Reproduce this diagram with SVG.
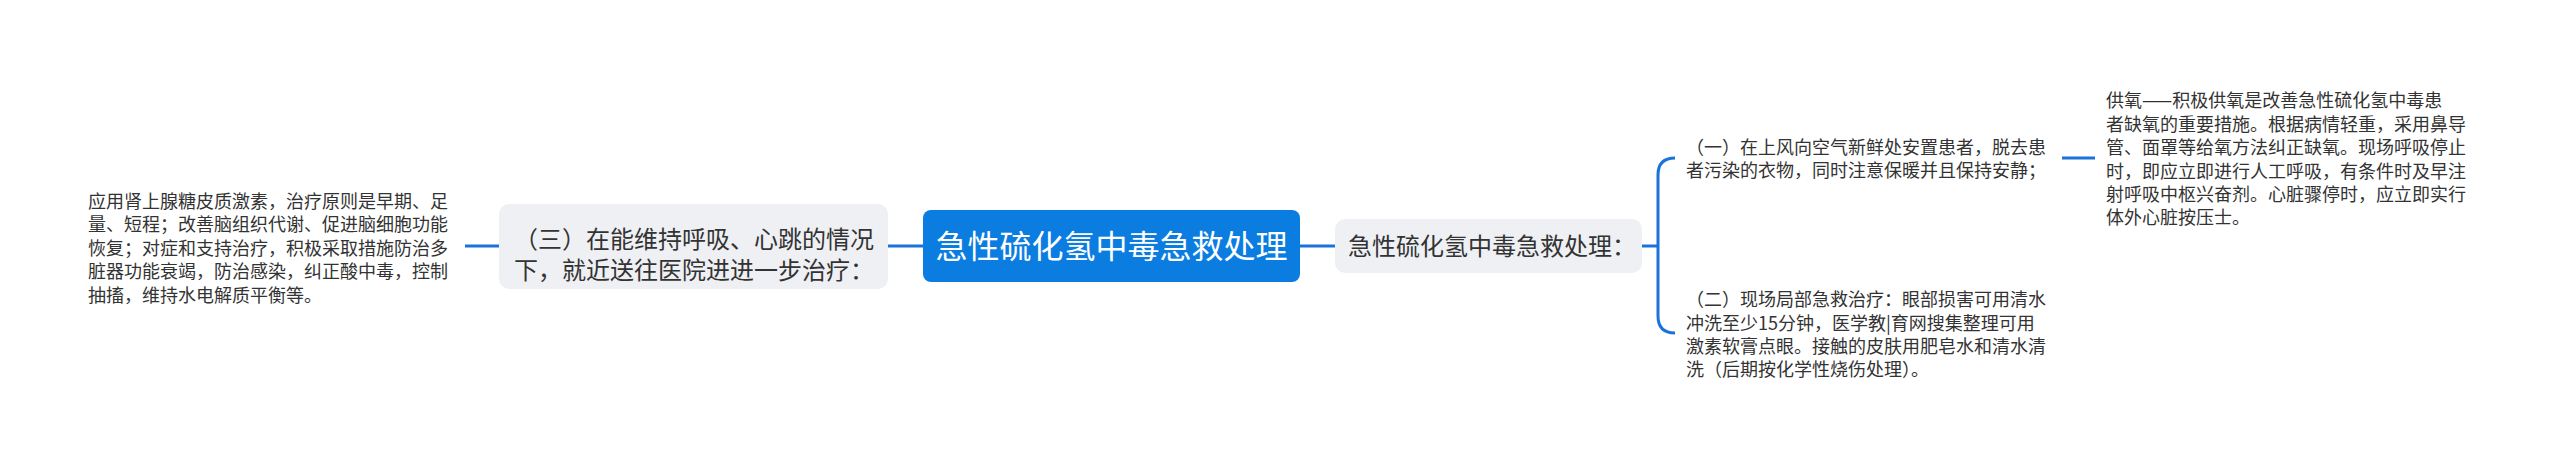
<svg xmlns="http://www.w3.org/2000/svg" width="2560" height="469" viewBox="0 0 2560 469">
<style>
.t{font-family:"Noto Sans CJK SC","Noto Sans",sans-serif;fill:#333333}
.s18{font-size:18px}
.s24{font-size:24px}
.main{font-family:"Noto Sans CJK SC","Noto Sans",sans-serif;font-size:32px;fill:#ffffff}
.gray{fill:#eef0f3}
.conn{fill:none;stroke:#1a73d8;stroke-width:3;stroke-linecap:butt}
</style>
<rect width="2560" height="469" fill="#ffffff"/>
<g id="connectors">
<path class="conn" d="M465,246 H499"/>
<path class="conn" d="M888,246 H923"/>
<path class="conn" d="M1300,246 H1335"/>
<path class="conn" d="M1642,246 H1658"/>
<path class="conn" d="M1675,158 Q1658,158 1658,175 V316 Q1658,333 1675,333"/>
<path class="conn" d="M2062,158 H2095"/>
</g>
<g id="center">
<rect x="923" y="210" width="377" height="72" rx="8" fill="#0b7de0"/>
<text class="main" x="1111.5" y="258" text-anchor="middle">急性硫化氢中毒急救处理</text>
</g>
<g id="n3">
<rect class="gray" x="499" y="204" width="389" height="85" rx="10"/>
<text class="t s24" x="514" y="248">（三）在能维持呼吸、心跳的情况</text>
<text class="t s24" x="514" y="279">下，就近送往医院进进一步治疗：</text>
</g>
<g id="n3a">
<text class="t s18"><tspan x="88" y="208">应用肾上腺糖皮质激素，治疗原则是早期、足</tspan><tspan x="88" y="231.4">量、短程；改善脑组织代谢、促进脑细胞功能</tspan><tspan x="88" y="254.8">恢复；对症和支持治疗，积极采取措施防治多</tspan><tspan x="88" y="278.2">脏器功能衰竭，防治感染，纠正酸中毒，控制</tspan><tspan x="88" y="301.6">抽搐，维持水电解质平衡等。</tspan></text>
</g>
<g id="n1">
<rect class="gray" x="1335" y="219" width="307" height="54" rx="10"/>
<text class="t s24" x="1348" y="255">急性硫化氢中毒急救处理：</text>
</g>
<g id="n1a">
<text class="t s18"><tspan x="1686" y="154">（一）在上风向空气新鲜处安置患者，脱去患</tspan><tspan x="1686" y="177.4">者污染的衣物，同时注意保暖并且保持安静；</tspan></text>
</g>
<g id="n1b">
<text class="t s18"><tspan x="1686" y="306.2">（二）现场局部急救治疗：眼部损害可用清水</tspan><tspan x="1686" y="329.6">冲洗至少15分钟，医学教|育网搜集整理可用</tspan><tspan x="1686" y="353">激素软膏点眼。接触的皮肤用肥皂水和清水清</tspan><tspan x="1686" y="376.4">洗（后期按化学性烧伤处理）。</tspan></text>
</g>
<g id="n1a1">
<text class="t s18"><tspan x="2106" y="107.3">供氧——积极供氧是改善急性硫化氢中毒患</tspan><tspan x="2106" y="130.7">者缺氧的重要措施。根据病情轻重，采用鼻导</tspan><tspan x="2106" y="154.1">管、面罩等给氧方法纠正缺氧。现场呼吸停止</tspan><tspan x="2106" y="177.5">时，即应立即进行人工呼吸，有条件时及早注</tspan><tspan x="2106" y="200.9">射呼吸中枢兴奋剂。心脏骤停时，应立即实行</tspan><tspan x="2106" y="224.3">体外心脏按压士。</tspan></text>
</g>
</svg>
